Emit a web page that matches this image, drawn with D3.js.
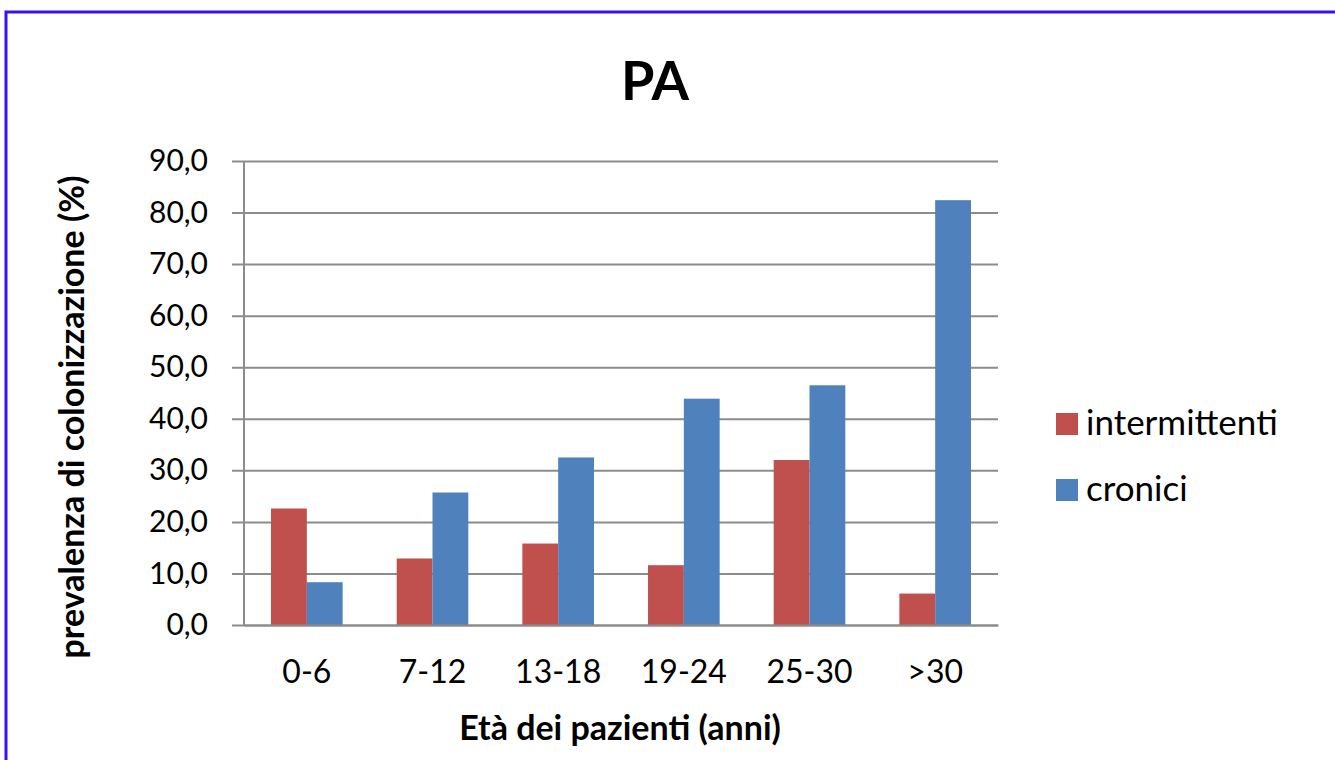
<!DOCTYPE html>
<html>
<head>
<meta charset="utf-8">
<script src="https://d3js.org/d3.v7.min.js"></script>
<style>
  body { margin: 0; background: #fff; }
  svg { display: block; }
</style>
</head>
<body>
<div id="chart"></div>
<script>
// data
var categories = ["0-6", "7-12", "13-18", "19-24", "25-30", ">30"];
var seriesNames = ["intermittenti", "cronici"];
var intermittenti = [22.6, 12.9, 15.8, 11.6, 32.0, 6.1];
var cronici = [8.3, 25.7, 32.5, 43.9, 46.5, 82.4];
var yTicks = [0, 10, 20, 30, 40, 50, 60, 70, 80, 90];
var colors = ["#C0504D", "#4F81BD"];

var W = 1335, H = 760;
var margin = {top: 161, right: 337, bottom: 135, left: 244},
    width = W - margin.left - margin.right,
    height = H - margin.top - margin.bottom;

var svg = d3.select("#chart")
  .append("svg")
    .attr("width", W)
    .attr("height", H);

// outer frame (only top and left edges show in the picture)
svg.append("path")
  .attr("d", "M6," + H + "V12H" + W)
  .attr("fill", "none")
  .attr("stroke", "#3A10F0")
  .attr("stroke-width", 3);

var g = svg.append("g")
  .attr("transform", "translate(" + margin.left + "," + margin.top + ")");

var x0 = d3.scaleBand()
  .domain(categories)
  .range([0, width])
  .paddingInner(0.43)
  .paddingOuter(0.215);

var x1 = d3.scaleBand()
  .domain(seriesNames)
  .range([0, x0.bandwidth()]);

var y = d3.scaleLinear()
  .domain([0, 90])
  .range([height, 0]);

// gridlines + y ticks
var yAxis = g.append("g")
  .call(d3.axisLeft(y)
    .tickValues(yTicks)
    .tickSize(-width)
    .tickPadding(36)
    .tickFormat(function(d) { return d3.format(".1f")(d).replace(".", ","); }));
yAxis.select(".domain").remove();
yAxis.selectAll(".tick line")
  .attr("x1", -12)
  .attr("stroke", "#8C8C8C")
  .attr("stroke-width", 2);
yAxis.selectAll(".tick text")
  .attr("font-family", "Lato, sans-serif")
  .attr("font-size", 30)
  .attr("fill", "#000");

// vertical axis line
g.append("line")
  .attr("x1", 0).attr("x2", 0)
  .attr("y1", 0).attr("y2", height)
  .attr("stroke", "#8C8C8C")
  .attr("stroke-width", 2);

// bars
var rows = categories.map(function(c, i) {
  return {cat: c, values: [intermittenti[i], cronici[i]]};
});

g.append("g")
  .selectAll("g")
  .data(rows)
  .enter()
  .append("g")
    .attr("transform", function(d) { return "translate(" + x0(d.cat) + ",0)"; })
  .selectAll("rect")
  .data(function(d) { return d.values.map(function(v, j) { return {key: seriesNames[j], value: v, j: j}; }); })
  .enter()
  .append("rect")
    .attr("x", function(d) { return x1(d.key); })
    .attr("y", function(d) { return y(d.value); })
    .attr("width", x1.bandwidth())
    .attr("height", function(d) { return height - y(d.value); })
    .attr("fill", function(d) { return colors[d.j]; });

// x axis
var xAxis = g.append("g")
  .attr("transform", "translate(0," + height + ")")
  .call(d3.axisBottom(x0).tickSize(0).tickPadding(35));
xAxis.select(".domain")
  .attr("stroke", "#8C8C8C")
  .attr("stroke-width", 2);
xAxis.selectAll(".tick text")
  .attr("font-family", "Lato, sans-serif")
  .attr("font-size", 32)
  .attr("fill", "#000");

// title
svg.append("text")
  .attr("x", 655)
  .attr("y", 100)
  .attr("text-anchor", "middle")
  .attr("font-family", "Lato, sans-serif")
  .attr("font-weight", "bold")
  .attr("font-size", 54)
  .text("PA");

// axis titles
svg.append("text")
  .attr("x", 620)
  .attr("y", 740)
  .attr("text-anchor", "middle")
  .attr("font-family", "Lato, sans-serif")
  .attr("font-weight", "bold")
  .attr("font-size", 34)
  .text("Età dei pazienti (anni)");

svg.append("text")
  .attr("transform", "translate(84," + 417 + ") rotate(-90)")
  .attr("text-anchor", "middle")
  .attr("font-family", "Lato, sans-serif")
  .attr("font-weight", "bold")
  .attr("font-size", 34)
  .text("prevalenza di colonizzazione (%)");

// legend
var legend = svg.append("g")
  .selectAll("g")
  .data(seriesNames)
  .enter()
  .append("g")
    .attr("transform", function(d, i) { return "translate(1056," + (413 + i * 66) + ")"; });
legend.append("rect")
  .attr("width", 22)
  .attr("height", 22)
  .attr("fill", function(d, i) { return colors[i]; });
legend.append("text")
  .attr("x", 30)
  .attr("y", 22)
  .attr("font-family", "Lato, sans-serif")
  .attr("font-size", 35)
  .attr("fill", "#000")
  .text(function(d) { return d; });
</script>
</body>
</html>
